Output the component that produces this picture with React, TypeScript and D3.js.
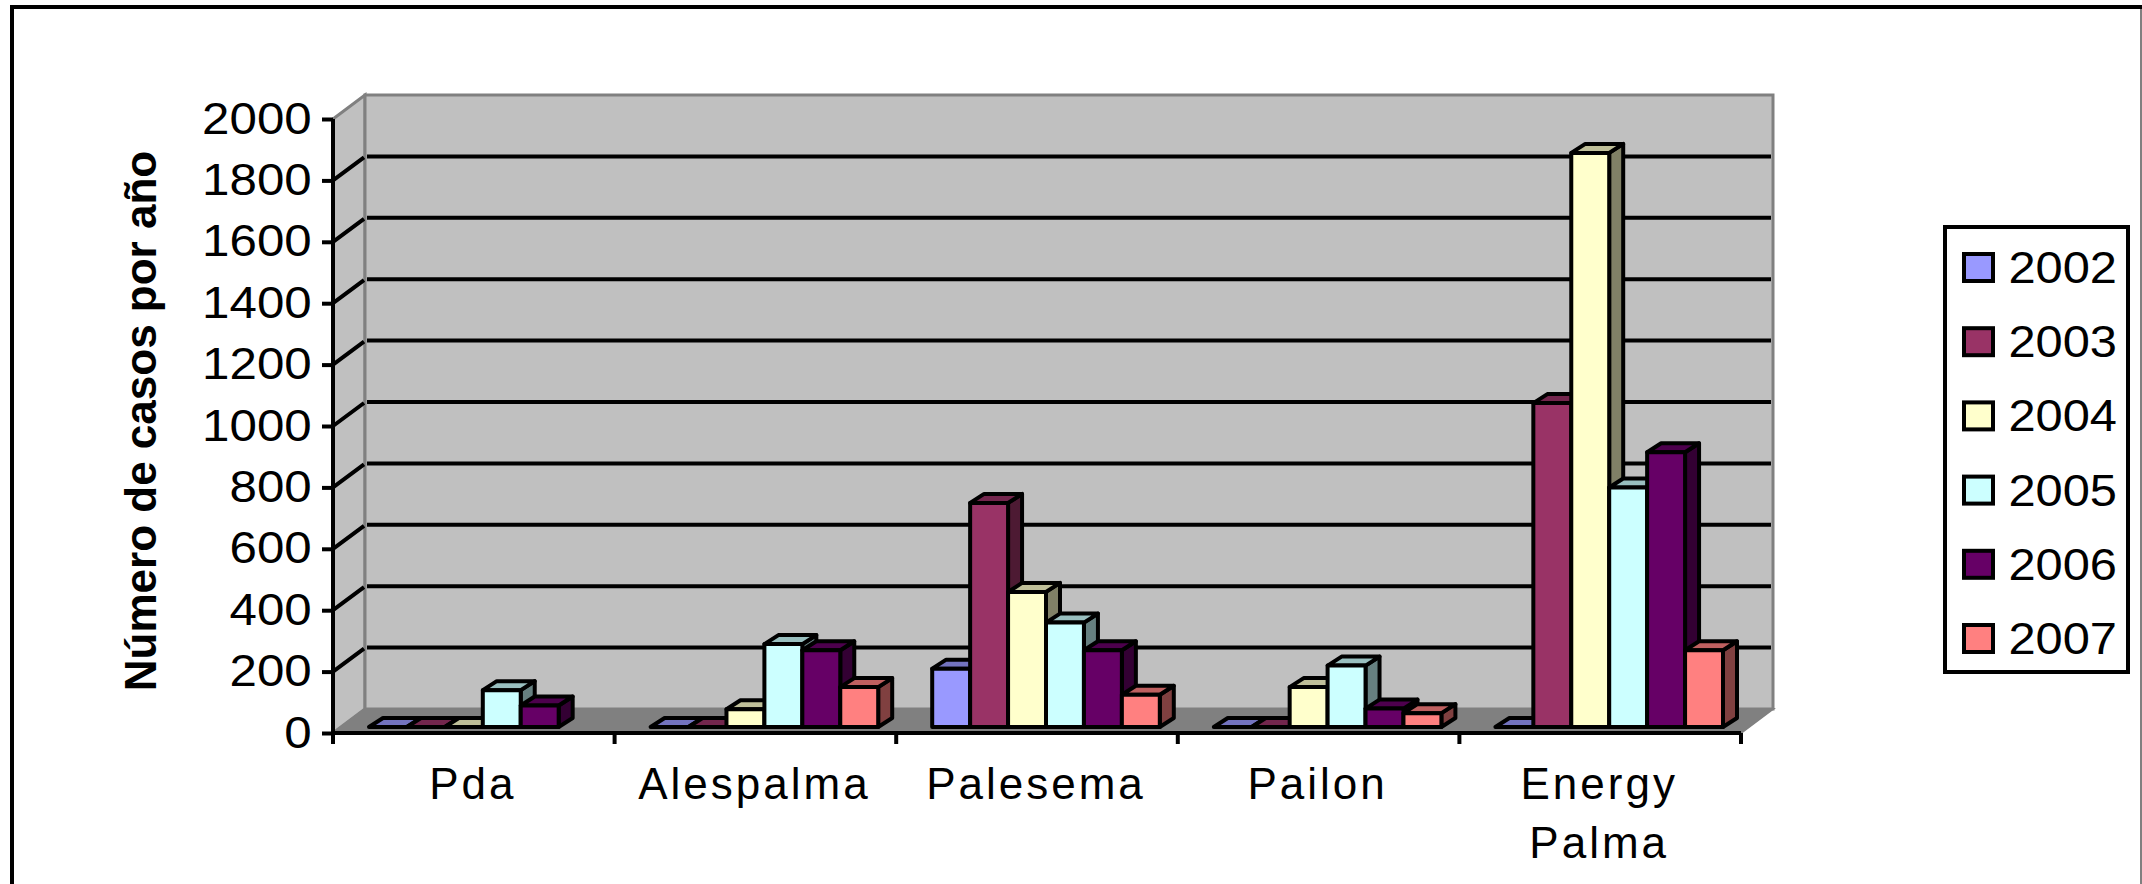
import { useRef, useEffect } from "react"
import * as d3 from "d3"

const categories = ["Pda", "Alespalma", "Palesema", "Pailon", "Energy Palma"]
const years = ["2002", "2003", "2004", "2005", "2006", "2007"]
const yearColors = ["#9999FF", "#993366", "#FFFFCC", "#CCFFFF", "#660066", "#FF8080"]
// null = no bar at all, 0 = flat bar on the floor
const cases2002 = [0, 0, 190, 0, 0]
const cases2003 = [0, 0, 730, 0, 1055]
const cases2004 = [0, 58, 440, 130, 1870]
const cases2005 = [120, 270, 340, 200, 780]
const cases2006 = [70, 250, 250, 60, 895]
const cases2007 = [null, 130, 105, 45, 250]
const series = [cases2002, cases2003, cases2004, cases2005, cases2006, cases2007]
const yTicks = [0, 200, 400, 600, 800, 1000, 1200, 1400, 1600, 1800, 2000]

function shade(hex: string, k: number) {
  const c = d3.rgb(hex)
  return d3.rgb(c.r * k, c.g * k, c.b * k).toString()
}

export default function App() {
  const svgRef = useRef<SVGSVGElement>(null)

  function drawChart() {
    const fontFamily = "'Liberation Sans', Arial, sans-serif"
    const svg = d3.select(svgRef.current)

    // front edge of the plot, the back wall sits up and to the right of it
    const left = 333
    const right = 1741
    const bottom = 733
    const top = 119
    const wallDx = 32
    const wallDy = 24

    const x = d3.scaleBand().domain(categories).range([left, right])
    const xInner = d3
      .scaleBand()
      .domain(years)
      .range([27, x.bandwidth() - 27])
    const y = d3.scaleLinear().domain([0, 2000]).range([bottom, top])

    // outer frame
    svg
      .append("path")
      .attr("d", "M12,884V7H2142")
      .attr("fill", "none")
      .attr("stroke", "#000")
      .attr("stroke-width", 4)
    svg
      .append("line")
      .attr("x1", 2141)
      .attr("x2", 2141)
      .attr("y1", 9)
      .attr("y2", 884)
      .attr("stroke", "#808080")
      .attr("stroke-width", 2)

    // walls
    const wallLine = "#808080"
    svg
      .append("polygon")
      .attr(
        "points",
        [
          [left, y(2000)],
          [left + wallDx, y(2000) - wallDy],
          [left + wallDx, bottom - wallDy],
          [left, bottom],
        ].join(" ")
      )
      .attr("fill", "#C0C0C0")
      .attr("stroke", wallLine)
      .attr("stroke-width", 3)
    svg
      .append("rect")
      .attr("x", left + wallDx)
      .attr("y", y(2000) - wallDy)
      .attr("width", right - left)
      .attr("height", bottom - y(2000))
      .attr("fill", "#C0C0C0")
      .attr("stroke", wallLine)
      .attr("stroke-width", 3)
    svg
      .append("polygon")
      .attr(
        "points",
        [
          [left, bottom],
          [left + wallDx, bottom - wallDy],
          [right + wallDx, bottom - wallDy],
          [right, bottom],
        ].join(" ")
      )
      .attr("fill", "#808080")
      .attr("stroke", wallLine)
      .attr("stroke-width", 2)

    // gridlines on both walls
    const grid = svg.append("g").attr("stroke", "#000").attr("stroke-width", 4).attr("fill", "none")
    grid
      .selectAll("path")
      .data(yTicks.filter((d) => d > 0 && d < 2000))
      .enter()
      .append("path")
      .attr(
        "d",
        (d) =>
          `M${left},${y(d)}L${left + wallDx - 1},${y(d) - wallDy + 1}M${left + wallDx + 2},${y(d) - wallDy}H${
            right + wallDx - 2
          }`
      )

    // bars
    const depthX = 14
    const depthY = 9
    const barShiftX = 9
    const barShiftY = 6
    const barsGroup = svg.append("g").attr("stroke", "#000").attr("stroke-width", 4).attr("stroke-linejoin", "round")
    categories.forEach((cat, c) => {
      years.forEach((year, s) => {
        const value = series[s][c]
        if (value === null) return
        const x0 = x(cat)! + xInner(year)! + barShiftX
        const x1 = x0 + xInner.bandwidth()
        const y0 = y(0) - barShiftY
        const y1 = y(value) - barShiftY
        const bar = barsGroup.append("g").attr("class", "bar")
        bar
          .append("polygon")
          .attr("points", [[x1, y1], [x1 + depthX, y1 - depthY], [x1 + depthX, y0 - depthY], [x1, y0]].join(" "))
          .attr("fill", shade(yearColors[s], 0.5))
        bar
          .append("polygon")
          .attr("points", [[x0, y1], [x0 + depthX, y1 - depthY], [x1 + depthX, y1 - depthY], [x1, y1]].join(" "))
          .attr("fill", shade(yearColors[s], 0.75))
        bar
          .append("rect")
          .attr("x", x0)
          .attr("y", y1)
          .attr("width", x1 - x0)
          .attr("height", y0 - y1)
          .attr("fill", yearColors[s])
      })
    })

    // axes
    const yAxis = d3.axisLeft(y).tickValues(yTicks).tickSize(11).tickFormat(d3.format("d"))
    const yGroup = svg.append("g").attr("transform", `translate(${left},0)`).call(yAxis)
    yGroup.select(".domain").remove()
    yGroup.selectAll("line").attr("stroke", "#000").attr("stroke-width", 4)
    yGroup
      .append("line")
      .attr("x1", 0)
      .attr("x2", 0)
      .attr("y1", top)
      .attr("y2", bottom + 10)
      .attr("stroke", "#000")
      .attr("stroke-width", 4)
    // the source text is stretched sideways
    yGroup
      .selectAll("text")
      .attr("fill", "#000")
      .attr("x", -19)
      .attr("transform", "scale(1.12,1)")
      .style("font-family", fontFamily)
      .style("font-size", "44px")

    const tickAt = [...categories.map((d) => x(d)!), right]
    const xGroup = svg.append("g").attr("stroke", "#000").attr("stroke-width", 4)
    xGroup.append("line").attr("x1", left).attr("x2", right).attr("y1", bottom).attr("y2", bottom)
    xGroup
      .selectAll("line.tick")
      .data(tickAt)
      .enter()
      .append("line")
      .attr("x1", (d) => d)
      .attr("x2", (d) => d)
      .attr("y1", bottom)
      .attr("y2", bottom + 11)

    const xLabels = svg
      .append("g")
      .attr("text-anchor", "middle")
      .style("font-family", fontFamily)
      .style("font-size", "44px")
      .style("letter-spacing", "3px")
    categories.forEach((cat) => {
      const words = cat.split(" ")
      words.forEach((word, i) => {
        xLabels
          .append("text")
          .attr("x", x(cat)! + x.bandwidth() / 2 - 1)
          .attr("y", 799 + i * 59)
          .text(word)
      })
    })

    // axis title
    svg
      .append("text")
      .attr("transform", "translate(156,421) rotate(-90)")
      .attr("text-anchor", "middle")
      .style("font-family", fontFamily)
      .style("font-size", "44px")
      .style("font-weight", "bold")
      .text("Número de casos por año")

    // legend
    const legendY = d3.scalePoint().domain(years).range([268, 639])
    svg
      .append("rect")
      .attr("x", 1945)
      .attr("y", 227)
      .attr("width", 183)
      .attr("height", 445)
      .attr("fill", "#fff")
      .attr("stroke", "#000")
      .attr("stroke-width", 4)
    const legend = svg
      .selectAll("g.legend")
      .data(years)
      .enter()
      .append("g")
      .attr("class", "legend")
      .attr("transform", (d) => `translate(1964,${legendY(d)})`)
    legend
      .append("rect")
      .attr("y", -14)
      .attr("width", 29)
      .attr("height", 27)
      .attr("fill", (d, i) => yearColors[i])
      .attr("stroke", "#000")
      .attr("stroke-width", 4)
    legend
      .append("text")
      .attr("x", 40)
      .attr("y", 15)
      .attr("transform", "scale(1.11,1)")
      .style("font-family", fontFamily)
      .style("font-size", "44px")
      .text((d) => d)
  }

  useEffect(() => {
    drawChart()
  }, [svgRef])

  return (
    <div>
      <svg
        ref={svgRef}
        width={2142}
        height={884}
        style={{ position: "absolute", left: 0, top: 0, display: "block", background: "#fff" }}
      ></svg>
    </div>
  )
}
